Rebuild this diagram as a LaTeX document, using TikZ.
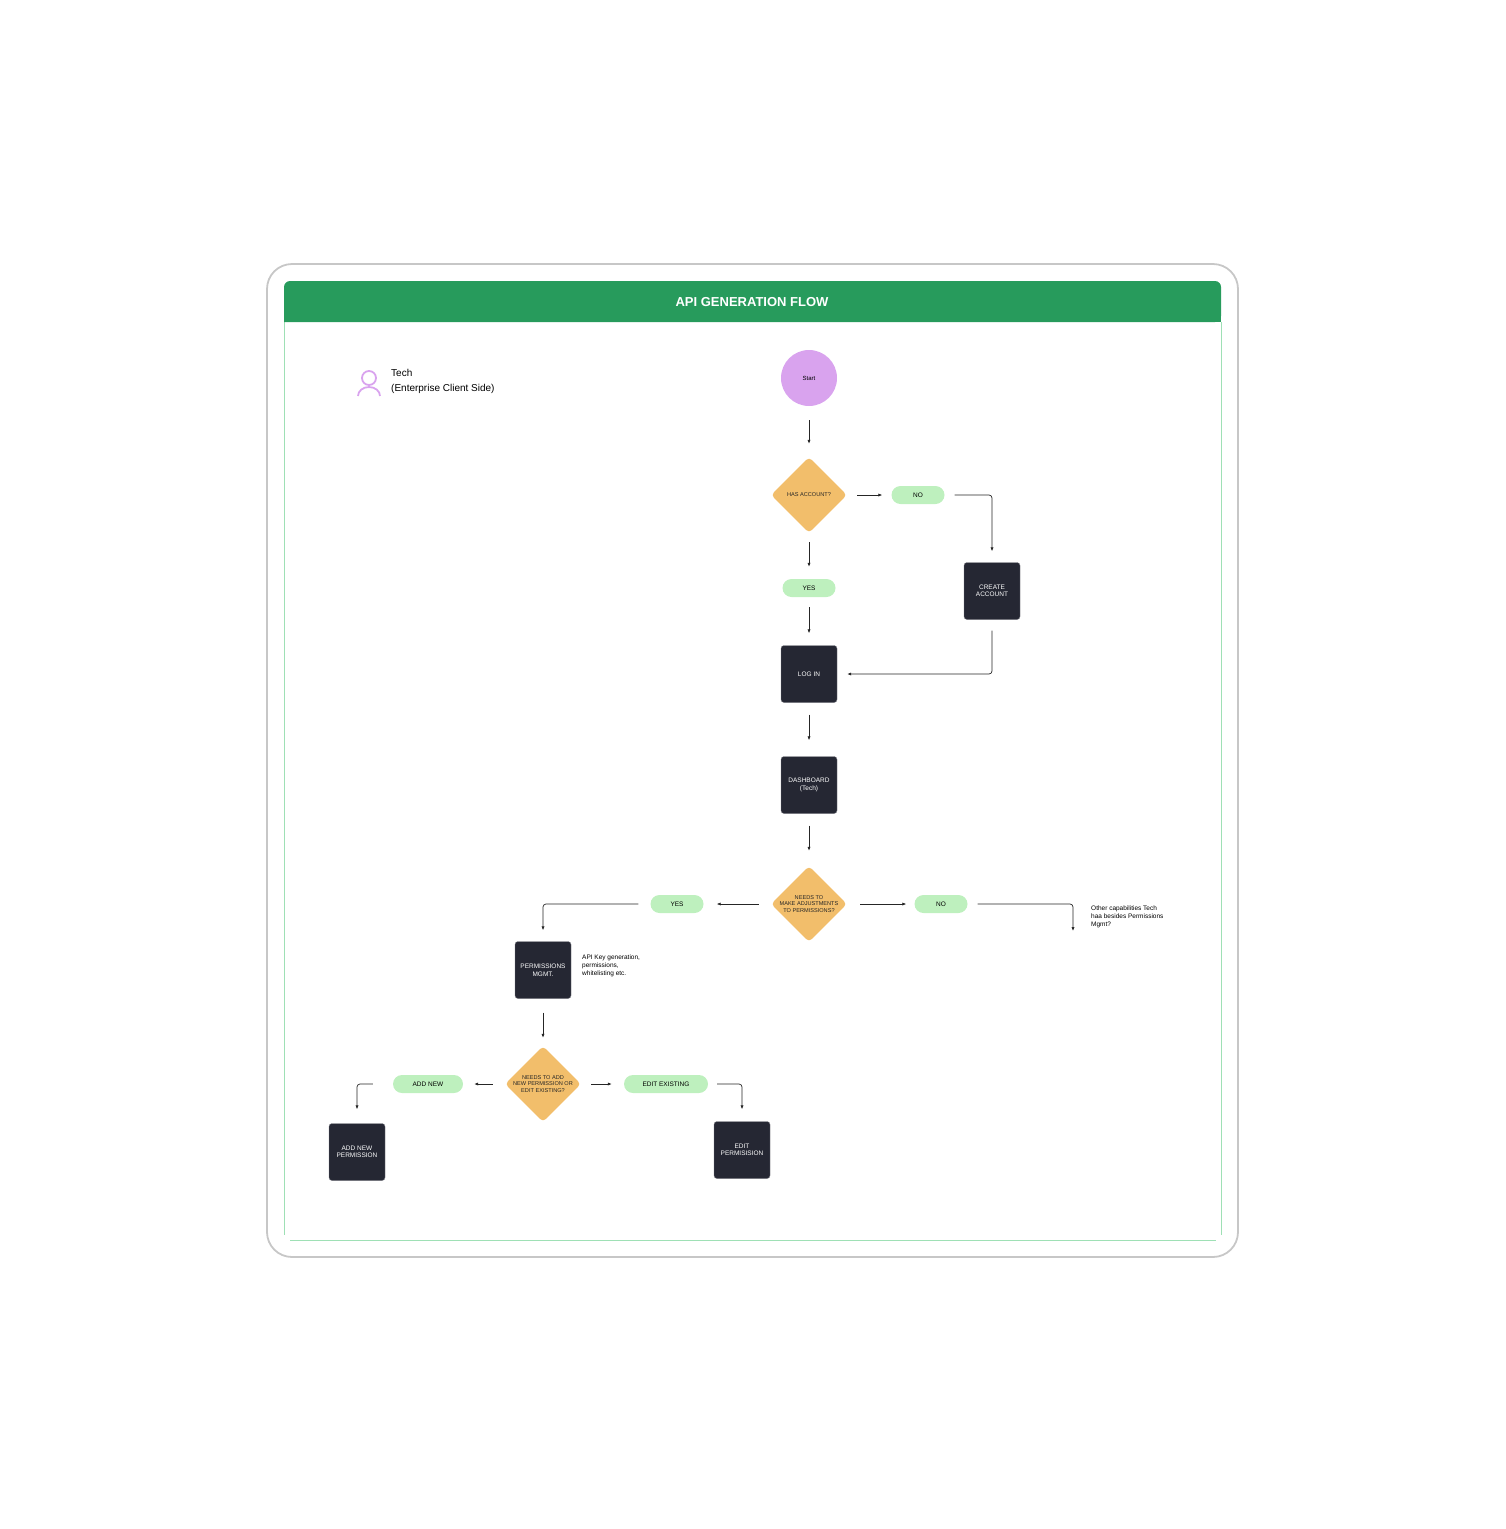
\documentclass[tikz,border=0pt]{standalone}
\usepackage{fontspec}
\setmainfont{Liberation Sans}
\usetikzlibrary{shapes.geometric,arrows.meta}
\definecolor{hgreen}{HTML}{279B5C}
\definecolor{lgreen}{HTML}{9EE0B5}
\definecolor{pill}{HTML}{BEF0BE}
\definecolor{dia}{HTML}{F2BE6B}
\definecolor{dark}{HTML}{252733}
\definecolor{purp}{HTML}{D9A3EE}
\begin{document}
\begin{tikzpicture}[x=1pt,y=-1pt,
  box/.style={draw=dark!60,fill=dark,rounded corners=3pt,minimum width=56pt,minimum height=57pt,text=white,font=\fontsize{6.5}{7.5}\selectfont,align=center,inner sep=1pt},
  pillbox/.style={fill=pill,rounded corners=9pt,minimum height=18pt,font=\fontsize{6.5}{7.5}\selectfont,inner sep=1pt},
  dec/.style={diamond,fill=dia,rounded corners=4pt,minimum width=76pt,minimum height=76pt,inner sep=0pt},
  dlab/.style={align=center,font=\fontsize{5.6}{6.3}\selectfont,text=black!85},
  conn/.style={draw=black!85,line width=0.7pt,-{Latex[length=4pt,width=3.2pt]},rounded corners=3pt},
  note/.style={align=left,anchor=north west,font=\fontsize{6.5}{8}\selectfont,inner sep=0pt}]
\useasboundingbox (0,0) rectangle (1506,1529);
% frame
\draw[black!22,line width=1.8pt,rounded corners=25pt] (267,264) rectangle (1238,1257);
\draw[lgreen,line width=0.7pt] (284,322) -- (284,1235);
\draw[lgreen,line width=0.7pt] (1221,322) -- (1221,1235);
\draw[lgreen,line width=0.7pt] (290,1240) -- (1216,1240);
\fill[hgreen,rounded corners=6pt] (284,322) -- (284,281) -- (1221,281) -- (1221,322) [sharp corners]-- cycle;
\fill[hgreen] (284,310) rectangle (1221,322);
\node[text=white,font=\bfseries\fontsize{13}{15}\selectfont] (title) at (752,302) {API GENERATION FLOW};
% person
\draw[purp,line width=1.8pt] (369,378) circle (7pt);
\draw[purp,line width=1.8pt] (358,396) arc (180:0:11pt and 9pt);
\node[note,font=\fontsize{10}{15}\selectfont] (who) at (391,369) {Tech\\(Enterprise Client Side)};
% nodes
\node[circle,fill=purp,minimum size=56pt,font=\fontsize{6}{7}\selectfont] (start) at (809,378) {Start};
\node[dec,label={[dlab]center:HAS ACCOUNT?}] (d1) at (809,495) {};
\node[pillbox,minimum width=53pt] (no1) at (918,495) {NO};
\node[pillbox,minimum width=53pt] (yes1) at (809,588) {YES};
\node[box] (create) at (992,591) {CREATE\\ACCOUNT};
\node[box] (login) at (809,674) {LOG IN};
\node[box] (dash) at (809,785) {DASHBOARD\\(Tech)};
\node[dec,label={[dlab]center:NEEDS TO\\MAKE ADJUSTMENTS\\TO PERMISSIONS?}] (d2) at (809,904) {};
\node[pillbox,minimum width=53pt] (yes2) at (677,904) {YES};
\node[pillbox,minimum width=53pt] (no2) at (941,904) {NO};
\node[note] (other) at (1091,906) {Other capabilities Tech\\haa besides Permissions\\Mgmt?};
\coordinate (oend) at (1073,931);
\node[box] (perm) at (543,970) {PERMISSIONS\\MGMT.};
\node[note] (pnote) at (582,955) {API Key generation,\\permissions,\\whitelisting etc.};
\node[dec,label={[dlab]center:NEEDS TO ADD\\NEW PERMISSION OR\\EDIT EXISTING?}] (d3) at (543,1084) {};
\node[pillbox,minimum width=70pt] (addnew) at (428,1084) {ADD NEW};
\node[pillbox,minimum width=84pt] (edit) at (666,1084) {EDIT EXISTING};
\node[box] (addp) at (357,1152) {ADD NEW\\PERMISSION};
\node[box] (editp) at (742,1150) {EDIT\\PERMISISION};
% connectors
\draw[conn,shorten <=14pt,shorten >=13pt] (start) -- (d1);
\draw[conn,shorten <=10pt,shorten >=9pt] (d1) -- (no1);
\draw[conn,shorten <=10pt,shorten >=11pt] (no1.east) -| (create.north);
\draw[conn,shorten <=9pt,shorten >=12pt] (d1) -- (yes1);
\draw[conn,shorten <=10pt,shorten >=12pt] (yes1) -- (login);
\draw[conn,shorten <=11pt,shorten >=10pt] (create.south) |- (login.east);
\draw[conn,shorten <=12pt,shorten >=16pt] (login) -- (dash);
\draw[conn,shorten <=12pt,shorten >=15pt] (dash) -- (d2);
\draw[conn,shorten <=12pt,shorten >=13pt] (d2) -- (yes2);
\draw[conn,shorten <=12pt,shorten >=11pt] (yes2.west) -| (perm.north);
\draw[conn,shorten <=13pt,shorten >=8pt] (d2) -- (no2);
\draw[conn,shorten <=10pt] (no2.east) -| (oend);
\draw[conn,shorten <=14pt,shorten >=8pt] (perm) -- (d3);
\draw[conn,shorten <=12pt,shorten >=11pt] (d3) -- (addnew);
\draw[conn,shorten <=20pt,shorten >=14pt] (addnew.west) -| (addp.north);
\draw[conn,shorten <=10pt,shorten >=12pt] (d3) -- (edit);
\draw[conn,shorten <=9pt,shorten >=12pt] (edit.east) -| (editp.north);
\end{tikzpicture}
\end{document}
